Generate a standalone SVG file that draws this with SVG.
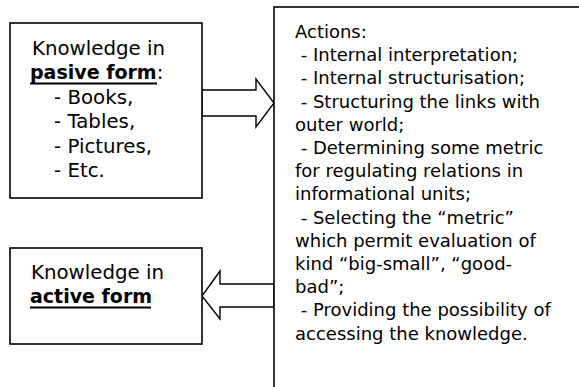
<svg xmlns="http://www.w3.org/2000/svg" width="579" height="387" viewBox="0 0 579 387">
<style>
.box{fill:#fff;stroke:#000;stroke-width:1.6}
.arr{fill:#fff;stroke:#000;stroke-width:1.4;stroke-linejoin:miter}
.t{font-family:"DejaVu Sans","Liberation Sans",sans-serif;fill:#000}
.l{font-size:19.8px}
.r{font-size:18px}
.b{font-weight:bold;font-size:19px}
.ul{stroke:#000;stroke-width:2}
</style>
<rect width="579" height="387" fill="#fff"/>
<g id="connectors">
<polygon class="arr" points="202,90 256,90 256,79 274,103 256,127 256,116 202,116"/>
<polygon class="arr" points="274,284 220,284 220,271 202,296 220,319 220,307 274,307"/>
</g>
<g id="actions">
<rect class="box" x="274" y="7" width="400" height="500"/>
<text class="t r" x="295" xml:space="preserve"><tspan x="295" y="38">Actions:</tspan><tspan x="295" y="61.2"> - Internal interpretation;</tspan><tspan x="295" y="84.4"> - Internal structurisation;</tspan><tspan x="295" y="107.6"> - Structuring the links with</tspan><tspan x="295" y="130.8">outer world;</tspan><tspan x="295" y="154"> - Determining some metric</tspan><tspan x="295" y="177.2">for regulating relations in</tspan><tspan x="295" y="200.4">informational units;</tspan><tspan x="295" y="223.6"> - Selecting the “metric”</tspan><tspan x="295" y="246.8">which permit evaluation of</tspan><tspan x="295" y="270">kind “big-small”, “good-</tspan><tspan x="295" y="293.2">bad”;</tspan><tspan x="295" y="316.4"> - Providing the possibility of</tspan><tspan x="295" y="339.6">accessing the knowledge.</tspan></text>
</g>
<g id="passive">
<rect class="box" x="10" y="23" width="192" height="175"/>
<text class="t l"><tspan x="32" y="55">Knowledge in</tspan><tspan x="30" y="79.4"><tspan class="b">pasive form</tspan>:</tspan><tspan x="54" y="103.8">- Books,</tspan><tspan x="54" y="128.2">- Tables,</tspan><tspan x="54" y="152.6">- Pictures,</tspan><tspan x="54" y="177">- Etc.</tspan></text>
<line class="ul" x1="30" y1="83.5" x2="157" y2="83.5"/>
</g>
<g id="active">
<rect class="box" x="10" y="248" width="192" height="96"/>
<text class="t l"><tspan x="31" y="279">Knowledge in</tspan><tspan class="b" x="30" y="303.4">active form</tspan></text>
<line class="ul" x1="30" y1="307.5" x2="151" y2="307.5"/>
</g>
</svg>
